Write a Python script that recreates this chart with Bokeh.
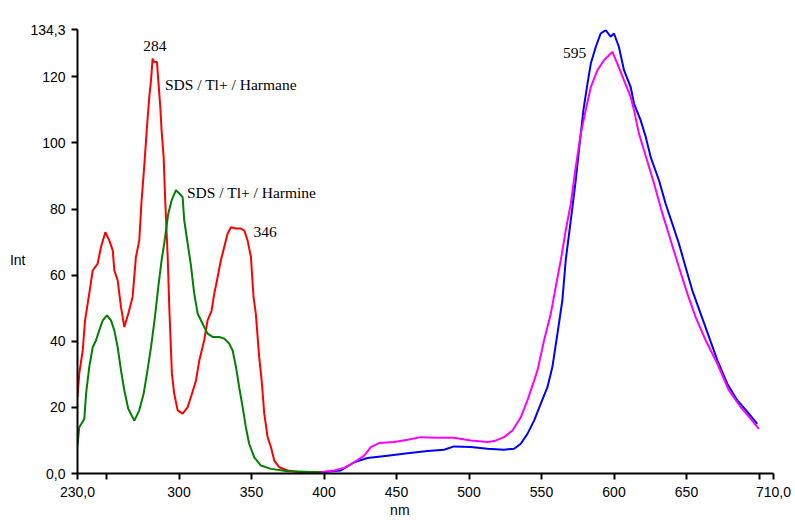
from bokeh.plotting import figure
from bokeh.models import FixedTicker, Label, LinearAxis
from bokeh.embed import file_html
from bokeh.resources import INLINE

# ---- data ----
harmane_x = [230, 231.2, 233.6, 235.2, 238.1, 240.5, 243.9, 246.2, 249.2, 251.9, 254.3, 255.4,
             257.7, 260, 262.3, 265, 268, 270.3, 272.6, 274.2, 276, 277.9, 279.5, 280.7, 281.8,
             282.9, 284.8, 285.7, 287.1, 288, 289.4, 290.5, 292.2, 293.3, 295.1, 296.7, 299.1,
             302.5, 306, 308.5, 311.7, 314, 317.4, 319.7, 322.5, 324.3, 326.2, 328.9, 331.2,
             333.5, 335.8, 339.2, 342.7, 345, 347.3, 349.6, 351.4, 353, 355.3, 357, 358.8,
             361.1, 363.4, 365.7, 369.1, 374.9, 384, 397.8, 400]
harmane_y = [23.1, 30.2, 37.2, 46.3, 54.4, 61.4, 63.5, 68.5, 73.0, 70.5, 67.5, 61.4,
             58.4, 50.3, 44.3, 48.3, 53.4, 65.5, 70.5, 82.6, 92.7, 104.8, 113.9, 118.9, 125.5,
             124.5, 124.5, 118.9, 110.9, 103.8, 95.7, 82.6, 65.5, 50.3, 30.2, 24.1, 19.1,
             18.1, 20.1, 23.5, 28.1, 34.2, 40.3, 46.3, 49.3, 54.4, 58.4, 64.5, 68.5,
             72.5, 74.5, 74.1, 74.1, 73.5, 70.5, 65.5, 53.4, 48.3, 35.2, 28.1, 18.1,
             11.0, 8.0, 3.9, 1.9, 0.9, 0.4, 0.4, 0.3]

harmine_x = [230, 231.2, 234.7, 235.9, 238.1, 240.5, 242.8, 245, 247.4, 250.3, 253.1, 255.4,
             257.7, 260, 262.3, 265, 269.2, 272.6, 275.6, 277.9, 280.7, 283.4, 285.7, 288,
             289.8, 292.6, 294.9, 297.9, 300.2, 302.5, 303.6, 306, 308.2, 310.5, 312.9,
             316.3, 319.7, 323.2, 327.7, 331.2, 334.6, 337, 339.3, 341.5, 343.9, 346.1,
             348.4, 351.9, 356.5, 363.4, 374.9, 397.8, 400]
harmine_y = [8.5, 14.0, 16.5, 24.1, 32.2, 38.2, 40.3, 43.3, 46.3, 47.8, 46.3, 43.3,
             38.2, 31.2, 25.1, 19.6, 16.0, 19.1, 24.1, 30.2, 38.2, 47.3, 56.4, 64.5,
             69.5, 78.6, 82.6, 85.7, 84.7, 83.6, 76.6, 69.5, 63.0, 54.4, 48.3,
             45.3, 42.3, 41.3, 41.3, 40.8, 39.3, 37.2, 32.2, 26.1, 20.1, 14.0,
             9.0, 4.9, 2.4, 1.4, 0.7, 0.4, 0.3]

magenta_x = [397.8, 407, 413.9, 420.8, 427.7, 432.3, 438, 448.4, 457.6, 466.8, 478.3, 489.7,
             501.2, 512.7, 517.3, 524.2, 530, 535.7, 540.3, 544.9, 547.2, 551.8, 556.4,
             559.8, 563.3, 566.7, 570.2, 573.6, 577.1, 580.5, 584, 588.6, 593.1, 598.9,
             602.3, 606.9, 611.5, 613.8, 617.2, 620.7, 627.6, 633.4, 639.1, 644.8, 650.6,
             656.3, 663.2, 671.3, 679.3, 687.3, 694.2, 699.9]
magenta_y = [0.4, 0.9, 1.7, 3.4, 5.4, 8.0, 9.2, 9.5, 10.2, 11.0, 10.8, 10.8,
             10.0, 9.5, 9.8, 11.0, 13.0, 17.0, 22.1, 28.1, 31.2, 40.3, 48.3,
             56.4, 64.5, 73.5, 81.6, 92.7, 102.8, 109.9, 116.9, 122.0, 125.0, 127.5,
             124.0, 118.9, 113.9, 109.9, 102.8, 97.8, 87.7, 78.6, 70.5, 62.4, 54.4,
             47.3, 40.3, 33.2, 25.1, 20.1, 16.6, 13.5]

blue_x = [397.8, 411.6, 420.8, 430, 443.8, 457.6, 471.4, 482.8, 489.7, 501.2, 512.7, 524.2,
          531.1, 535.7, 540.3, 544.9, 549.5, 554.1, 557.5, 561, 564.4, 566.7, 570.2, 573.6,
          576.6, 578.9, 581.7, 584, 587.4, 590.8, 594.3, 597.7, 600, 603.4, 606.9, 611.5,
          613.8, 618.4, 621.9, 625.3, 631, 635.6, 640.2, 644.8, 649.4, 654, 659.8, 665.5,
          671.3, 678.2, 685.1, 692, 698.8]
blue_y = [0.4, 0.9, 3.4, 4.7, 5.4, 6.1, 6.8, 7.2, 8.2, 8.0, 7.5, 7.2,
          7.5, 9.0, 12.0, 16.0, 21.1, 26.1, 32.2, 42.3, 52.4, 64.5, 76.6, 88.7,
          100.8, 109.9, 117.9, 124.0, 129.0, 133.1, 134.1, 132.1, 133.1, 129.0, 122.0, 116.9,
          111.9, 106.8, 101.8, 95.7, 88.7, 81.6, 75.6, 69.5, 62.4, 55.4, 48.3, 41.3,
          34.2, 27.1, 22.1, 18.6, 15.0]

x_ticks = [230, 250, 300, 350, 400, 450, 500, 550, 600, 650, 700, 710]
x_tick_labels = {230: "230,0", 250: "", 700: "", 710: "710,0"}
y_ticks = [0, 20, 40, 60, 80, 100, 120, 134.3]
y_tick_labels = {0: "0,0", 134.3: "134,3"}
x_title, x_title_pos = "nm", 452.3
y_title, y_title_pos = "Int", 64.5

annotations = [
    ("284", 283.4, 129.3, "center"),
    ("SDS / Tl+ / Harmane", 290.3, 117.6, "left"),
    ("SDS / Tl+ / Harmine", 305.5, 84.9, "left"),
    ("346", 351.4, 72.9, "left"),
    ("595", 564.9, 127.3, "left"),
]

# ---- figure ----
p = figure(width=795, height=520, x_range=(230, 710), y_range=(0, 134.3),
           output_backend="svg", toolbar_location=None,
           min_border_left=77, min_border_right=22, min_border_top=29, min_border_bottom=47)
p.outline_line_color = None
p.xgrid.grid_line_color = None
p.ygrid.grid_line_color = None
p.background_fill_color = "white"
p.border_fill_color = "white"

p.line(harmane_x, harmane_y, line_color="#FF0000", line_width=2)
p.line(harmine_x, harmine_y, line_color="#008000", line_width=2)
p.line(blue_x, blue_y, line_color="#0000FF", line_width=2)
p.line(magenta_x, magenta_y, line_color="#FF00FF", line_width=2)

for ax in (p.xaxis[0], p.yaxis[0]):
    ax.axis_line_color = "black"
    ax.axis_line_width = 2
    ax.major_tick_line_color = "black"
    ax.major_tick_line_width = 2
    ax.major_tick_out = 6
    ax.major_tick_in = 0
    ax.minor_tick_line_color = None
    ax.major_label_text_font = "Liberation Sans"
    ax.major_label_text_font_size = "14px"
    ax.major_label_text_color = "black"

p.xaxis[0].ticker = FixedTicker(ticks=x_ticks)
p.xaxis[0].major_label_overrides = x_tick_labels
p.xaxis[0].major_label_standoff = 7
p.yaxis[0].ticker = FixedTicker(ticks=y_ticks)
p.yaxis[0].major_label_overrides = y_tick_labels
p.yaxis[0].major_label_standoff = 6


def title_axis(ticks, labels, standoff):
    a = LinearAxis(ticker=FixedTicker(ticks=ticks), major_label_overrides=labels)
    a.axis_line_color = None
    a.major_tick_line_color = None
    a.minor_tick_line_color = None
    a.major_tick_out = 0
    a.major_tick_in = 0
    a.major_label_standoff = standoff
    a.major_label_text_font = "Liberation Sans"
    a.major_label_text_font_size = "14px"
    a.major_label_text_color = "black"
    return a


p.add_layout(title_axis([x_title_pos], {x_title_pos: x_title}, 2), "below")
p.add_layout(title_axis([y_title_pos], {y_title_pos: y_title}, 2), "left")

for txt, x, y, align in annotations:
    p.add_layout(Label(x=x, y=y, text=txt, text_align=align, text_baseline="alphabetic",
                       text_font="Liberation Serif", text_font_size="15.5px",
                       text_color="black"))

open("out.html", "w").write(file_html(p, INLINE))
